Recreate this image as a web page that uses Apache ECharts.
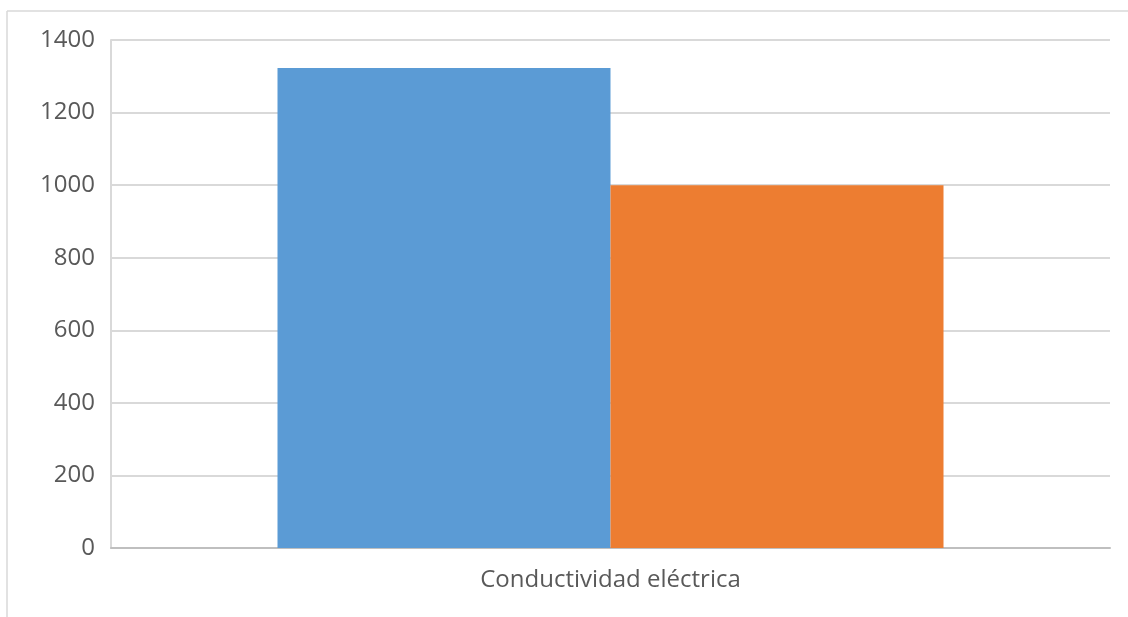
<!DOCTYPE html>
<html>
<head>
<meta charset="utf-8">
<script src="https://cdn.jsdelivr.net/npm/echarts@6/dist/echarts.min.js"></script>
<style>
  html, body { margin: 0; padding: 0; background: #fff; }
  #chart { width: 1128px; height: 617px; }
</style>
</head>
<body>
<div id="chart"></div>
<script>
// Category and values
const categories = ['Conductividad eléctrica'];
const seriesA = [1323];
const seriesB = [1000];
const yTicks = { min: 0, max: 1400, interval: 200 };

const chart = echarts.init(document.getElementById('chart'));
const labelFont = { fontFamily: '"Open Sans", "Noto Sans", sans-serif', fontSize: 24, color: '#595959' };

chart.setOption({
  animation: false,
  backgroundColor: '#ffffff',
  graphic: [
    { type: 'line', shape: { x1: 7, y1: 11, x2: 1128, y2: 11 }, style: { stroke: '#d9d9d9', lineWidth: 1.5 } },
    { type: 'line', shape: { x1: 7, y1: 11, x2: 7, y2: 617 }, style: { stroke: '#d9d9d9', lineWidth: 1.5 } }
  ],
  grid: { left: 111, right: 18, top: 40, bottom: 69, containLabel: false },
  xAxis: {
    type: 'category',
    data: categories,
    axisLine: { show: true, lineStyle: { color: '#bfbfbf', width: 2 } },
    axisTick: { show: false },
    axisLabel: Object.assign({ margin: 20 }, labelFont)
  },
  yAxis: {
    type: 'value',
    min: yTicks.min,
    max: yTicks.max,
    interval: yTicks.interval,
    axisLine: { show: true, lineStyle: { color: '#d9d9d9', width: 2 } },
    axisTick: { show: false },
    splitLine: { lineStyle: { color: '#d9d9d9', width: 2 } },
    axisLabel: Object.assign({ margin: 16, formatter: v => String(v) }, labelFont)
  },
  series: [
    { type: 'bar', data: seriesA, barWidth: 333, barGap: '0%', itemStyle: { color: '#5b9bd5' } },
    { type: 'bar', data: seriesB, barWidth: 333, barGap: '0%', itemStyle: { color: '#ed7d31' } }
  ]
});
</script>
</body>
</html>
